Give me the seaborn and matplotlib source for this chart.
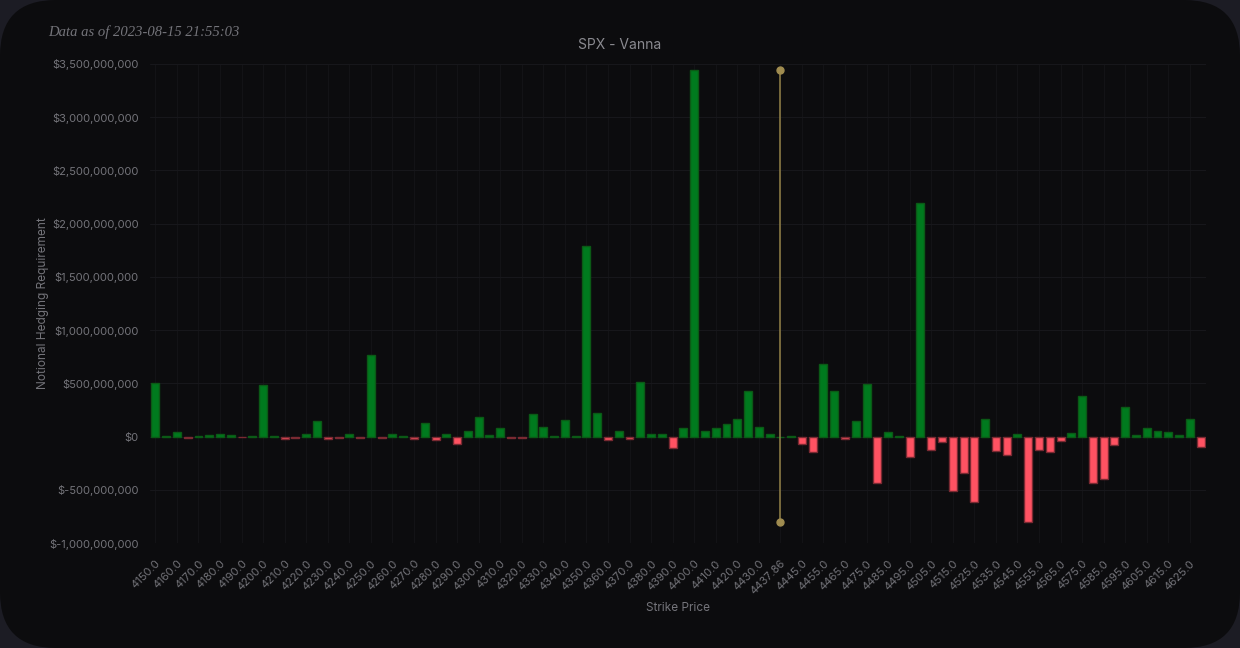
import matplotlib
matplotlib.use("Agg")
import matplotlib.pyplot as plt
from matplotlib.patches import FancyBboxPatch
from matplotlib.ticker import FuncFormatter
import seaborn as sns
import pandas as pd
import numpy as np

strikes = [str(float(s)) for s in range(4150, 4440, 5)] + ["4437.86"] + [str(float(s)) for s in range(4440, 4635, 5)]

vanna = [
    500, 5, 45, -10, 5, 12, 22, 12, -8, 3,
    485, 5, -25, -12, 22, 144, -25, -12, 22, -10,
    763, -10, 22, 3, -25, 125, -30, 28, -72, 50,
    188, 16, 84, -10, -10, 210, 94, 3, 153, 3,
    1790, 225, -33, 50, -25, 510, 20, 22, -110, 82,
    3440, 50, 84, 119, 163, 428, 94, 20, 0, 3,
    -72, -144, 681, 425, -25, 147, 494, -440, 44, 3,
    -188, 2195, -122, -53, -510, -338, -613, 169, -135, -169,
    28, -806, -122, -141, -41, 38, 378, -441, -397, -84,
    275, 12, 84, 50, 41, 19, 169, -97,
]
vanna = [v * 1e6 for v in vanna]

spot_label = "4437.86"
title = "SPX - Vanna"
stamp = "Data as of 2023-08-15 21:55:03"

df = pd.DataFrame({"strike": strikes, "vanna": vanna})
df["sign"] = np.where(df["vanna"] >= 0, "pos", "neg")

BG = "#0c0c0e"
OUTER = "#1c1c24"
TXT = "#74747a"

sns.set_theme(style="dark")
plt.rcParams["font.family"] = ["Inter", "DejaVu Sans"]

fig = plt.figure(figsize=(12.4, 6.48), dpi=100)
fig.patch.set_facecolor(OUTER)
panel = FancyBboxPatch((0, 0), 1, 1, boxstyle="round,pad=0,rounding_size=0.045",
                       transform=fig.transFigure, facecolor=BG, edgecolor="none",
                       mutation_aspect=1240 / 648, zorder=-10)
fig.patches.append(panel)

ax = fig.add_axes([150 / 1240, 1 - 543 / 648, 1056 / 1240, (543 - 64) / 648])
ax.set_zorder(1)
ax.set_facecolor(BG)

sns.barplot(data=df, x="strike", y="vanna", hue="sign", order=strikes,
            palette={"pos": "#007a1e", "neg": "#ff5262"}, dodge=False,
            width=0.74, legend=False, ax=ax, saturation=1)
for p in ax.patches:
    h = p.get_height()
    p.set_edgecolor("#0b5a16" if h >= 0 else "#7a2a32")
    p.set_linewidth(1.0)

# spot line from min to max
si = strikes.index(spot_label)
vmax, vmin = max(vanna), min(vanna)
ax.plot([si, si], [vmin, vmax], color="#8a7a44", lw=1.2, zorder=3)
ax.plot([si, si], [vmin, vmax], "o", color="#a08c50", ms=5, zorder=4)

ax.set_xlim(-0.5, len(strikes) - 0.5)
ax.set_ylim(-1e9, 3.5e9)
ax.set_yticks(np.arange(-1e9, 3.5e9 + 1, 5e8))

def fmt(v, pos):
    if abs(v) < 1:
        return "$0"
    return "$" + f"{int(round(v)):,}"
ax.yaxis.set_major_formatter(FuncFormatter(fmt))

ax.set_xticks(range(0, len(strikes), 2))
ax.set_xticklabels(strikes[::2], rotation=45, ha="right", rotation_mode="anchor")

ax.tick_params(axis="both", colors=TXT, labelsize=8, length=0)
ax.tick_params(axis="x", pad=11)
ax.tick_params(axis="y", pad=8)
ax.grid(True, axis="y", color="#17171b", lw=0.8)
ax.grid(True, axis="x", color="#131316", lw=0.8)
ax.set_axisbelow(True)
for s in ax.spines.values():
    s.set_visible(False)

ax.set_xlabel("Strike Price", color=TXT, fontsize=8.5, labelpad=4)
ax.set_ylabel("Notional Hedging Requirement", color=TXT, fontsize=8.5, labelpad=0)

fig.text(0.5, 1 - 45 / 648, title, color="#8a8a90", fontsize=10, ha="center", va="center")
fig.text(48 / 1240, 1 - 32 / 648, stamp, color="#74747a", fontsize=10.5,
         family=["Liberation Serif"], style="italic", ha="left", va="center")

fig.savefig("out.png", dpi=100, facecolor=fig.get_facecolor())
